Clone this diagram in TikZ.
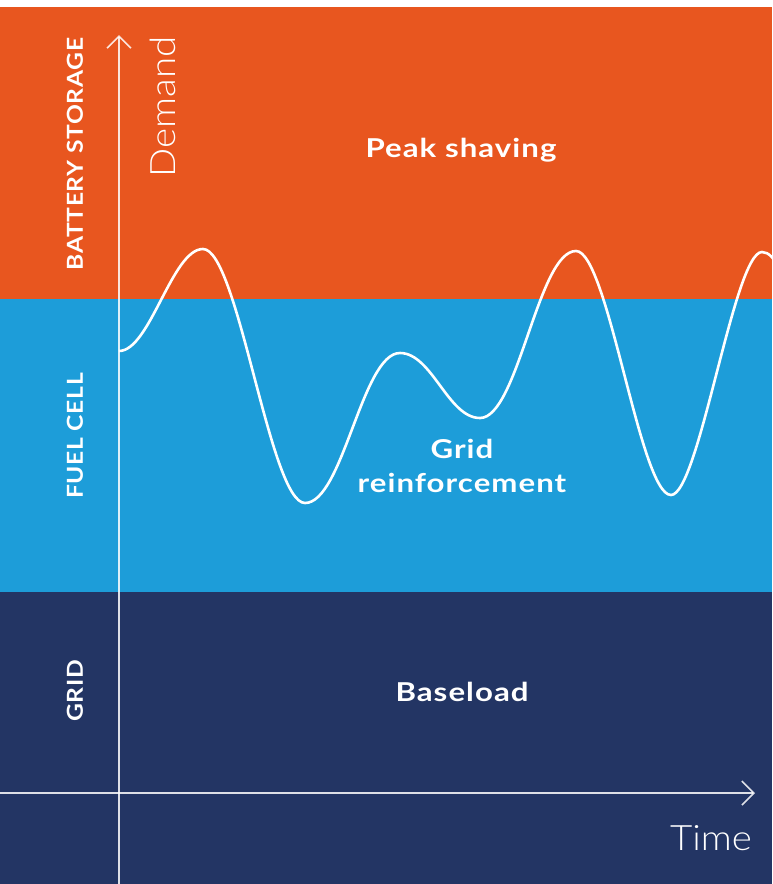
\documentclass[tikz,border=0pt]{standalone}
\usepackage{fontspec}
\setmainfont{Lato}
\newfontfamily\thinfont{Lato Light}[FakeStretch=1.1]
\newfontfamily\zonefont{Lato}[FakeStretch=1.2, LetterSpace=4]
\newfontfamily\bandfont{Lato}[FakeStretch=1.12, LetterSpace=3]
\usetikzlibrary{arrows.meta}
\definecolor{cOrange}{RGB}{232,86,31}
\definecolor{cBlue}{RGB}{29,157,217}
\definecolor{cNavy}{RGB}{35,53,100}
\tikzset{
  band/.style={fill=#1, draw=none},
  bandlabel/.style={text=white, font=\bandfont\bfseries\fontsize{22}{24}\selectfont, rotate=90, inner sep=0pt},
  zonelabel/.style={text=white, font=\zonefont\bfseries\fontsize{26}{34}\selectfont, align=center, inner sep=0pt},
  axislabel/.style={text=white, font=\thinfont\fontsize{35}{40}\selectfont, inner sep=0pt},
  axis/.style={draw=white, draw opacity=0.85, line width=1.6pt, -{Straight Barb[length=12pt,width=24pt,line width=1.6pt]}},
  demand/.style={draw=white, line width=2.6pt}
}
\begin{document}
\begin{tikzpicture}[x=1pt,y=-1pt]
\useasboundingbox (0,0) rectangle (772,884);
\fill[white] (0,0) rectangle (772,884);
\fill[band=cOrange] (0,7) rectangle (772,299);
\fill[band=cBlue] (0,299) rectangle (772,592);
\fill[band=cNavy] (0,592) rectangle (772,884);

% curve
\begin{scope}
\clip (0,0) rectangle (772,884);
\draw[demand] (119,351) .. controls (150,351) and (172,249) .. (203,249)
  .. controls (238,249) and (270,503) .. (305,503)
  .. controls (343,503) and (362,353) .. (400,353)
  .. controls (432,353) and (448,418) .. (480,418)
  .. controls (518,418) and (538,251) .. (576,251)
  .. controls (608,251) and (640,495) .. (671,495)
  .. controls (699,495) and (734,252) .. (762,252)
  .. controls (776,252) and (784,280) .. (790,300);
\end{scope}

% axes
\coordinate (yb) at (119,884);
\coordinate (yt) at (119,35);
\coordinate (xl) at (0,793);
\coordinate (xr) at (755,793);
\draw[axis] (yb) -- (yt);
\draw[axis] (xl) -- (xr);

\node[axislabel, rotate=90] (demandlbl) at (163,107) {Demand};
\node[axislabel] (timelbl) at (711,838) {Time};

\node[bandlabel] (battery) at (75,154) {BATTERY STORAGE};
\node[bandlabel] (fuel) at (75,436) {FUEL CELL};
\node[bandlabel] (grid) at (75,691) {GRID};

\node[zonelabel] (peak) at (461,150) {Peak shaving};
\node[zonelabel] (reinf) at (462,466) {Grid\\reinforcement};
\node[zonelabel] (base) at (462,692) {Baseload};
\end{tikzpicture}
\end{document}
